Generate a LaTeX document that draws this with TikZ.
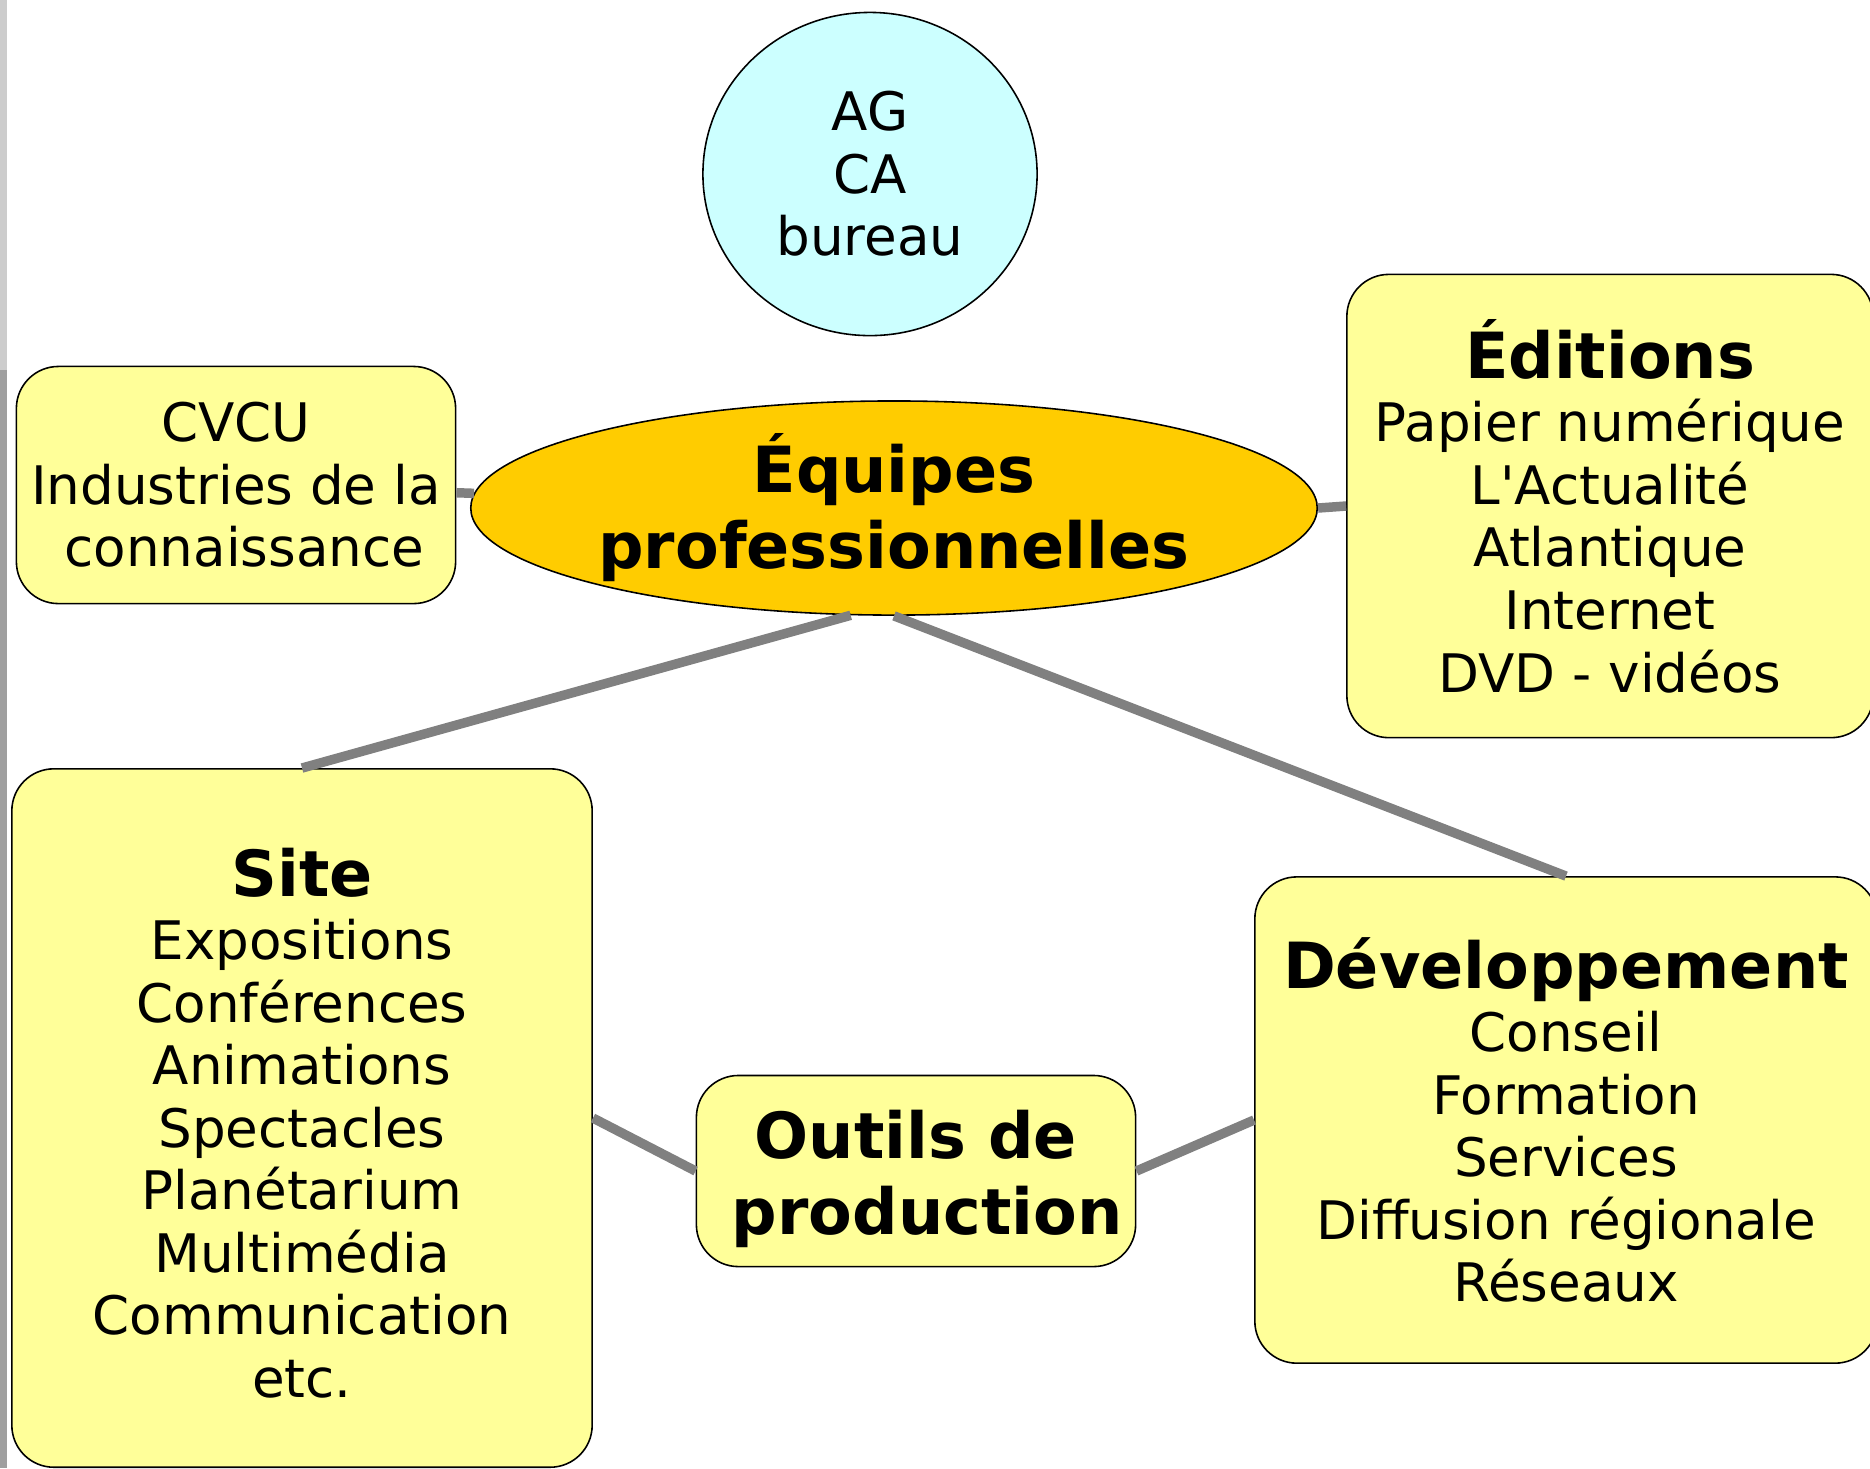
\documentclass[tikz,border=0pt]{standalone}
\usepackage{fontspec}
\setmainfont{DejaVu Sans}
\usepackage{xcolor}
\usepackage{tikz}
\usetikzlibrary{shapes.geometric}

\definecolor{boxyellow}{HTML}{FFFF99}
\definecolor{hubgold}{HTML}{FFCC00}
\definecolor{boardcyan}{HTML}{CCFFFF}
\definecolor{linkgray}{HTML}{808080}

\begin{document}
\begin{tikzpicture}[x=0.01cm,y=-0.01cm]
        \def\bodyfont{\fontsize{15.1}{17.8}\selectfont}
        \def\titlefont{\fontsize{18.1}{21.6}\selectfont\bfseries}
        \def\titlegap{0.2pt}
        \def\down#1{\rule{0pt}{#1}}

        \tikzset{
           pole/.style={
              draw=black,
              line width=0.45pt,
              fill=boxyellow,
              rounded corners=0.42cm,
              align=center,
              font=\bodyfont,
              inner sep=0pt
           },
           link/.style={
              draw=linkgray,
              line width=2.7pt
           }
        }

        \useasboundingbox (0,0) rectangle (1870,1468);
        % left border
        \draw[gray!40, line width=3\pgflinewidth] (1,0) -- (1,370);
        \draw[gray!75, line width=3\pgflinewidth] (1,370) -- (1,1468);

        % Board
        \node[ellipse, draw=black, line width=0.45pt, fill=boardcyan,
              minimum width=3.34cm, minimum height=3.23cm, inner sep=0pt,
              align=center, font=\bodyfont] (agca) at (870,174) {AG\\CA\\bureau};

        % Centre
        \node[ellipse, draw=black, line width=0.45pt, fill=hubgold,
              minimum width=8.46cm, minimum height=2.14cm, inner sep=0pt,
              align=center, font=\titlefont] (equipes) at (894,508) {Équipes\\professionnelles};

        % Poles
        \node[pole, minimum width=4.39cm, minimum height=2.37cm] (cvcu) at (236,485)
              {CVCU\\Industries de la\\\ connaissance};

        \node[pole, minimum width=5.26cm, minimum height=4.63cm] (editions) at (1610,506)
              {{\titlefont Éditions}\\[\titlegap]Papier numérique\\L\textquotesingle Actualité\\Atlantique\\Internet\\DVD - vidéos};

        \node[pole, minimum width=5.80cm, minimum height=6.98cm] (site) at (302,1118)
              {{\titlefont\down{16.6pt}Site}\\[\titlegap]Expositions\\Conférences\\Animations\\Spectacles\\Planétarium\\Multimédia\\Communication\\etc.};

        \node[pole, minimum width=6.22cm, minimum height=4.86cm] (dev) at (1566,1120)
              {{\titlefont Développement}\\[\titlegap]Conseil\\Formation\\Services\\Diffusion régionale\\Réseaux};

        \node[pole, minimum width=4.39cm, minimum height=1.91cm, font=\titlefont] (outils) at (916,1171)
              {\down{18.3pt}Outils de\\\ production};

        % Lines
        \draw[link] (cvcu) -- (equipes);
        \draw[link] (equipes.east) -- (editions.west);
        \draw[link] (equipes.248) -- (site.north);
        \draw[link] (equipes.south) -- (dev.north);
        \draw[link] (site.east) -- (outils.west);
        \draw[link] (outils.east) -- (dev.west);
\end{tikzpicture}
\end{document}
